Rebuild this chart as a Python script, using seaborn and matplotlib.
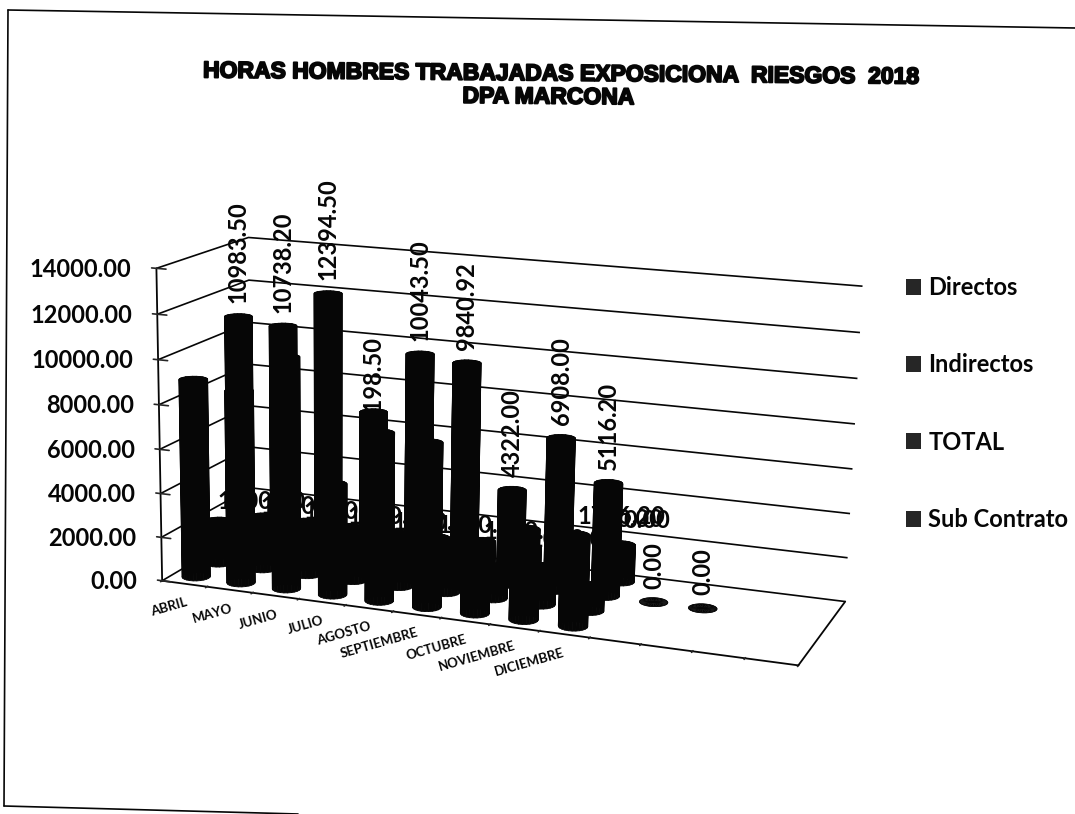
import numpy as np, matplotlib
matplotlib.use('Agg')
import matplotlib.pyplot as plt
import seaborn as sns
import matplotlib.patheffects as pe
from matplotlib.lines import Line2D
from matplotlib.patches import Patch
from mpl_toolkits.mplot3d import proj3d

categorias = ["ABRIL","MAYO","JUNIO","JULIO","AGOSTO","SEPTIEMBRE","OCTUBRE","NOVIEMBRE","DICIEMBRE"]
directos    = [9000, 8700, 10400, 5000, 7500, 7300, 2900, 4000, 4000]
indirectos  = [1983.5, 2038.2, 1994.5, 1998.5, 2043.5, 2040.9, 1422.0, 1708.0, 1116.2]
total       = [10983.50, 10738.20, 12394.50, 7198.50, 10043.50, 9840.92, 4322.00, 6908.00, 5116.20, 0.00, 0.00]
subcontrato = [1000, 1000, 1000, 1000, 1000, 1100, 1100, 1000, 1716.2]
sub_ceros   = [0.00, 0.00]
zticks      = [0,2000,4000,6000,8000,10000,12000,14000]
series      = ["Directos","Indirectos","TOTAL","Sub Contrato"]

sns.set_theme(style='white')
plt.rcParams['font.family'] = ['Lato','DejaVu Sans']
negro = sns.dark_palette('#000000', 4)
INK = '#060606'
FS = 17

W,H = 1075,814
fig = plt.figure(figsize=(W/100,H/100),dpi=100,facecolor='white')
S = 744.4
ax = fig.add_axes([122.27/W,-5/H,S/W,S/H],projection='3d',computed_zorder=False)
ax.set_xlim(0,13); ax.set_ylim(0,4); ax.set_zlim(0,14000)
ax.set_proj_type('persp',focal_length=0.5928)
ax.view_init(elev=14.109,azim=-70.316,roll=-1.032)
ax.set_box_aspect((1,0.31263,0.48773))
ax.patch.set_alpha(0)
M = ax.get_proj()

for a in (ax.xaxis,ax.yaxis,ax.zaxis):
    a.set_pane_color((1,1,1,0))
    a.pane.set_edgecolor((1,1,1,0))
    a.line.set_color(INK); a.line.set_linewidth(1.3)
    a._axinfo['grid'].update(color=(0,0,0,0),linewidth=0)
    a._axinfo['tick']['linewidth'] = {True:1.2,False:1.2}
    a._axinfo['tick']['color'] = INK
ax.zaxis._axinfo['grid'].update(color=INK,linewidth=1.2,linestyle='-')
ax.zaxis._axinfo['juggled'] = (1,2,0)
ax.set_xticks(np.arange(14)); ax.set_xticklabels(['']*14)
ax.set_yticks([]); ax.set_zticks(zticks); ax.set_zticklabels(['']*len(zticks))

th = np.linspace(0,2*np.pi,25)
R = 0.28
def bars(vals,row,z):
    for i,v in enumerate(vals):
        cx,cy = i+0.5,row+0.5
        X = np.vstack([cx+R*np.cos(th)]*2); Y = np.vstack([cy+R*np.sin(th)]*2)
        Z = np.vstack([np.zeros_like(th),np.full_like(th,v)])
        ax.plot_surface(X,Y,Z,color=INK,shade=False,linewidth=0.6,edgecolor=INK,zorder=z)
        rr = np.array([0,1.0])[:,None]
        ax.plot_surface(cx+R*rr*np.cos(th),cy+R*rr*np.sin(th),np.full((2,th.size),float(v)),color=INK,shade=False,linewidth=0.3,edgecolor=INK,zorder=z)

def lab(x,y,z,s,dx=0,dy=0,**kw):
    X,Y,_ = proj3d.proj_transform(x,y,z,M)
    kw.setdefault('fontsize',FS); kw.setdefault('fontweight','bold')
    return ax.annotate(s,xy=(X,Y),xycoords='data',xytext=(dx*0.72,dy*0.72),textcoords='offset points',color=INK,annotation_clip=False,**kw)

for v in zticks:
    lab(0,0,v,f"{v:.2f}",dx=-25,dy=-1,ha='right',va='center',zorder=8)
bars(subcontrato,3,1)
for i,v in enumerate(subcontrato):
    lab(i+0.5,3.5,v,f"{v:.2f}",dy=17 if i==8 else 4,ha='center',va='bottom',zorder=2)
for i,v in enumerate(sub_ceros):
    lab(9.2+i*0.15,3.5,1900,f"{v:.2f}",dx=-15,dy=14,ha='center',va='bottom',zorder=2)
bars(total,2,3)
for i,v in enumerate(total):
    lab(i+0.5,2.5,v,f"{v:.2f}",dy=-12 if i==3 else 13,rotation=90,ha='center',va='bottom',zorder=4)
bars(indirectos,1,5)
bars(directos,0,6)
for i,c in enumerate(categorias):
    lab(i,0,0,c,dx=25,dy=-21,ha='right',va='center',rotation=16,rotation_mode='anchor',fontsize=9.5,zorder=7)

tfont = dict(ha='center',va='center',rotation=-0.5,family=['Liberation Sans','DejaVu Sans'],fontweight='bold',fontsize=16.5,color=INK,
             path_effects=[pe.withStroke(linewidth=1.4,foreground=INK)])
fig.text(560/W,1-74/H,"HORAS HOMBRES TRABAJADAS EXPOSICIONA  RIESGOS  2018",**tfont)
fig.text(548/W,1-97/H,"DPA MARCONA",**tfont)

h=[Patch(facecolor=negro[0],edgecolor='none',label=s) for s in series]
fig.legend(handles=h,loc='upper left',bbox_to_anchor=(906/W,1-276/H),frameon=False,labelspacing=2.3,
           handlelength=0.65,handleheight=0.65,handletextpad=0.3,borderpad=0,borderaxespad=0,labelcolor=INK,prop={'weight':'bold','size':FS})

for p,q in [((8,10),(4,806)),((8,10),(1075,28)),((4,806),(298,814))]:
    fig.add_artist(Line2D([p[0]/W,q[0]/W],[1-p[1]/H,1-q[1]/H],color=INK,lw=1.2,transform=fig.transFigure))
fig.savefig('out.png',dpi=100)
